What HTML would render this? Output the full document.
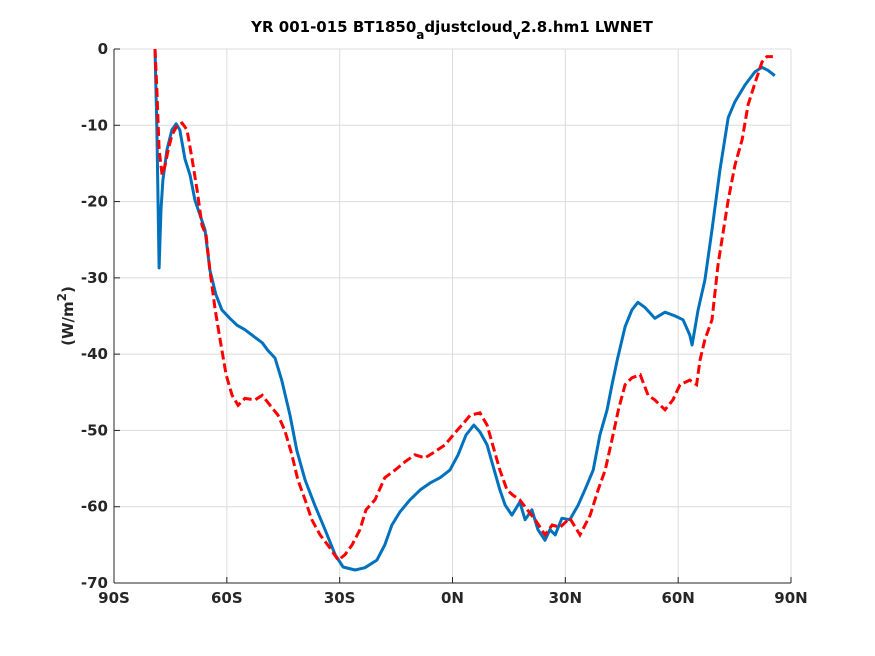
<!DOCTYPE html>
<html><head><meta charset="utf-8"><style>
body{margin:0;background:#fff;}
svg{display:block;font-family:"DejaVu Sans","Liberation Sans",sans-serif;}
</style></head><body>
<svg id="chart" width="875" height="656">
<rect width="875" height="656" fill="#fff"/>
<text x="452" y="32" text-anchor="middle" font-size="15" font-weight="bold" fill="#000">YR 001-015 BT1850<tspan baseline-shift="sub" font-size="12">a</tspan>djustcloud<tspan baseline-shift="sub" font-size="12">v</tspan>2.8.hm1 LWNET</text>
<g id="grid"></g><g id="axes"></g><g id="series"></g>
<text transform="translate(73,316) rotate(-90)" text-anchor="middle" font-size="15" font-weight="bold" fill="#262626">(W/m<tspan baseline-shift="super" font-size="12">2</tspan>)</text>
</svg>
<script>
const xTicks=[-90,-60,-30,0,30,60,90];
const xTickLabels=["90S","60S","30S","0N","30N","60N","90N"];
const yTicks=[0,-10,-20,-30,-40,-50,-60,-70];
const blueLat=[-79.1,-78.6,-78.0,-77.5,-77,-75.9,-74.6,-73.5,-72.5,-71.1,-69.8,-68.5,-67.1,-65.8,-64.5,-62.9,-61.3,-59.2,-57.3,-55.2,-53.3,-50.6,-49.1,-47.2,-45.4,-43.2,-41.4,-39.2,-36.6,-33.9,-31.2,-29.1,-25.9,-23.3,-20.1,-18,-16.1,-14,-11.3,-8.6,-6,-3.3,-0.7,1.5,3.6,5.7,7.3,9.2,10.7,12.6,14,15.8,17.9,19.3,21.1,22.7,24.6,25.9,27.3,29.1,31.2,33.4,35.2,37.4,39.2,41.1,42.4,43.8,45.9,47.7,49.3,51.2,53.8,56.5,59.2,61.3,63.1,63.7,65.3,67.1,69,71.1,73.3,75.1,77.8,80.4,82.3,83.9,85.7];
const blueVal=[0,-10.6,-28.7,-21,-17.2,-13.2,-10.6,-9.8,-10.6,-14.5,-16.5,-19.8,-21.8,-23.7,-29,-32.2,-34.2,-35.3,-36.2,-36.8,-37.5,-38.5,-39.5,-40.5,-43.4,-48,-52.6,-56.5,-59.8,-63,-66.3,-67.9,-68.3,-68,-67,-65,-62.4,-60.7,-59.1,-57.8,-56.9,-56.2,-55.2,-53.2,-50.6,-49.3,-50.2,-51.9,-54.5,-57.8,-59.8,-61.1,-59.4,-61.7,-60.4,-63,-64.4,-63,-63.7,-61.5,-61.7,-59.8,-57.8,-55.2,-50.6,-47.3,-44,-40.8,-36.4,-34.2,-33.2,-33.9,-35.3,-34.5,-35,-35.5,-37.5,-38.8,-34.2,-30.3,-23.7,-15.9,-9,-6.9,-4.7,-3,-2.4,-2.8,-3.5];
const redLat=[-79.1,-78.6,-78,-77.2,-76.4,-75.6,-74.6,-73.2,-71.9,-70.6,-69.2,-67.9,-66.6,-65.5,-64.5,-63.1,-61.8,-60.2,-58.6,-57,-55.2,-52.5,-50.6,-48.5,-46.4,-44.6,-42.7,-41.1,-39.2,-37.4,-35.2,-32.6,-30.4,-28.6,-26.7,-24.6,-23,-20.6,-18,-15.3,-12.6,-10,-7.3,-4.7,-2,0.7,2.5,4.7,7.3,9.2,10.7,12.6,14.5,16.1,17.9,19.9,22,24.6,26.5,28.6,31.2,33.9,36.6,38.7,40.6,42.4,44.1,45.9,47.7,49.9,52,53.8,56.5,58.6,60.5,63.1,64.9,65.8,67.1,69,70.6,73.3,75.1,77,78.6,80.4,82.3,83.6,85.2];
const redVal=[0,-5.4,-13.2,-16.5,-15.2,-13.2,-11.3,-10,-9.7,-10.6,-14.5,-18.5,-23.1,-24.4,-29,-34.2,-38.1,-42.7,-45.4,-46.7,-45.8,-46,-45.4,-46.7,-48,-50,-53.2,-56.5,-59.1,-61.7,-63.7,-65.4,-67,-66.3,-65,-63,-60.4,-59.1,-56.2,-55.2,-54.1,-53.2,-53.6,-52.8,-51.9,-50.3,-49.3,-48,-47.7,-49.3,-51.9,-55.2,-57.8,-58.5,-59.1,-60.4,-61.7,-63.7,-62.4,-62.7,-61.5,-63.7,-61.1,-57.8,-55.2,-51.2,-47.3,-44,-43.1,-42.7,-45.4,-46,-47.3,-46,-44,-43.4,-44,-40.8,-38.1,-35.5,-28.3,-19.8,-15.2,-11.9,-7.3,-4.5,-1.7,-1,-1];
const NS="http://www.w3.org/2000/svg";
const X0=114,X1=791,Y0=49,Y1=583;
const xs=v=>X0+(v+90)/180*(X1-X0);
const ys=v=>Y0+(0-v)/70*(Y1-Y0);
function mk(tag,attrs,parent){const e=document.createElementNS(NS,tag);for(const k in attrs)e.setAttribute(k,attrs[k]);parent.appendChild(e);return e;}
const grid=document.getElementById('grid'),axes=document.getElementById('axes'),ser=document.getElementById('series');
xTicks.forEach((t,i)=>{
 const g=mk('line',{x1:xs(t),x2:xs(t),y1:Y0,y2:Y1,stroke:'#dcdcdc','stroke-width':1},grid);
 
 
 const tk=mk('line',{x1:xs(t),x2:xs(t),y1:Y1,y2:Y1-6,stroke:'#262626','stroke-width':1},axes);
 
 
 const tx=mk('text',{x:xs(t),y:Y1+20,'text-anchor':'middle','font-size':15,'font-weight':'bold',fill:'#262626'},axes);
 tx.textContent=xTickLabels[i];
 
 
});
yTicks.forEach(t=>{
 const g=mk('line',{x1:X0,x2:X1,y1:ys(t),y2:ys(t),stroke:'#dcdcdc','stroke-width':1},grid);
 
 
 const tk=mk('line',{x1:X0,x2:X0+6,y1:ys(t),y2:ys(t),stroke:'#262626','stroke-width':1},axes);
 
 
 const tx=mk('text',{x:X0-6,y:ys(t)+5,'text-anchor':'end','font-size':15,'font-weight':'bold',fill:'#262626'},axes);
 tx.textContent=String(t);
 
 
});
const xa=mk('line',{x1:X0,x2:X1,y1:Y1,y2:Y1,stroke:'#262626','stroke-width':1},axes);


const ya=mk('line',{x1:X0,x2:X0,y1:Y0,y2:Y1,stroke:'#262626','stroke-width':1},axes);


const pts=(la,va)=>la.map((l,i)=>xs(l).toFixed(1)+','+ys(va[i]).toFixed(1)).join(' ');
const bl=mk('polyline',{points:pts(blueLat,blueVal),fill:'none',stroke:'#0072bd','stroke-width':3,'stroke-linejoin':'round'},ser);


const rl=mk('polyline',{points:pts(redLat,redVal),fill:'none',stroke:'#ff0000','stroke-width':3,'stroke-dasharray':'9,4'},ser);


</script>
</body></html>
